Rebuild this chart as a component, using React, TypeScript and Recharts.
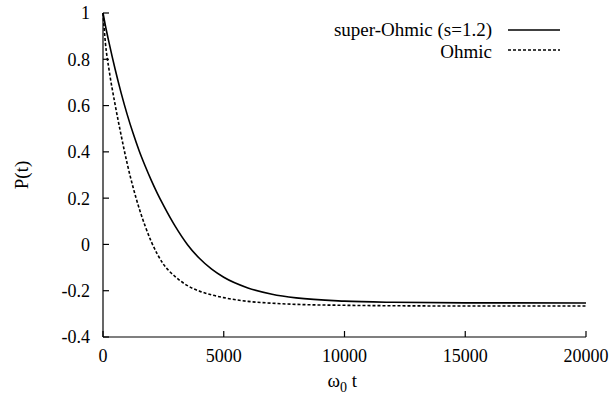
import { LineChart, Line, XAxis, YAxis } from 'recharts';

const times = [0, 100, 250, 500, 750, 1000, 1250, 1500, 1750, 2000, 2250, 2500, 3000, 3500, 4000, 4500, 5000, 6000, 7000, 8000, 10000, 12000, 15000, 20000];
const superOhmic = [1.0, 0.945, 0.872, 0.758, 0.655, 0.562, 0.479, 0.404, 0.338, 0.277, 0.221, 0.17, 0.077, -0.001, -0.061, -0.107, -0.142, -0.188, -0.215, -0.231, -0.245, -0.25, -0.2525, -0.253];
const ohmic = [1.0, 0.87, 0.755, 0.605, 0.472, 0.35, 0.245, 0.155, 0.078, 0.012, -0.042, -0.085, -0.14, -0.178, -0.202, -0.218, -0.23, -0.246, -0.254, -0.259, -0.263, -0.265, -0.266, -0.266];

const xTicks = [0, 5000, 10000, 15000, 20000];
const yTicks = [-0.4, -0.2, 0, 0.2, 0.4, 0.6, 0.8, 1];

// no serif font turned up in the sandbox, so this falls back to a sans
const FONT = '"Liberation Serif", "Times New Roman", "Liberation Sans", sans-serif';

const data = times.map((t, i) => ({ t, s: superOhmic[i], o: ohmic[i] }));

const tickStyle = { fill: '#000', fontSize: 18, style: { fontFamily: FONT } };
const axisLine = { stroke: '#000', strokeWidth: 1.2 };
const noLabel = () => <g />;
const textStyle = { fontFamily: FONT };

export default function App() {
  return (
    <div style={{ position: 'absolute', left: 0, top: 0, width: 614, height: 402, background: '#fff', fontFamily: FONT }}>
      <LineChart width={614} height={402} data={data} margin={{ top: 13, right: 28, bottom: 20, left: 0 }} style={textStyle}>
        <XAxis
          dataKey="t"
          type="number"
          domain={[0, 20000]}
          ticks={xTicks}
          axisLine={axisLine}
          tickLine={axisLine}
          tickSize={-6}
          tickMargin={18}
          tick={tickStyle}
          height={45}
          label={{
            content: ({ viewBox }: any) => (
              <text x={viewBox.x + viewBox.width / 2 - 17} y={viewBox.y + 50} style={textStyle} fontSize={19} fill="#000">
                ω<tspan fontSize={14} dy={5}>0</tspan>
                <tspan dy={-5}> t</tspan>
              </text>
            ),
          }}
        />
        <XAxis
          xAxisId="top"
          orientation="top"
          type="number"
          domain={[0, 20000]}
          ticks={xTicks}
          axisLine={axisLine}
          tickLine={axisLine}
          tickSize={-6}
          tick={noLabel}
          height={0}
        />
        <YAxis
          type="number"
          domain={[-0.4, 1]}
          ticks={yTicks}
          interval={0}
          axisLine={axisLine}
          tickLine={axisLine}
          tickSize={-6}
          tickMargin={19}
          tick={tickStyle}
          width={103}
          label={{
            content: ({ viewBox }: any) => (
              <text
                x={21}
                y={viewBox.y + viewBox.height / 2}
                transform={`rotate(-90, 21, ${viewBox.y + viewBox.height / 2})`}
                textAnchor="middle"
                dominantBaseline="central"
                style={textStyle}
                fontSize={19}
                fill="#000"
              >
                P(t)
              </text>
            ),
          }}
        />
        <YAxis
          yAxisId="right"
          orientation="right"
          type="number"
          domain={[-0.4, 1]}
          ticks={yTicks}
          interval={0}
          axisLine={axisLine}
          tickLine={axisLine}
          tickSize={-6}
          tick={noLabel}
          width={0}
        />
        <Line dataKey="s" type="monotone" stroke="#000" strokeWidth={1.6} dot={false} isAnimationActive={false} />
        <Line dataKey="o" type="monotone" stroke="#000" strokeWidth={1.6} strokeDasharray="3 2" dot={false} isAnimationActive={false} />
      </LineChart>
      <svg width={614} height={402} style={{ position: 'absolute', left: 0, top: 0, pointerEvents: 'none' }}>
        <text x={492} y={29} textAnchor="end" dominantBaseline="central" style={textStyle} fontSize={19} fill="#000">
          super-Ohmic (s=1.2)
        </text>
        <line x1={508} x2={560} y1={30} y2={30} stroke="#000" strokeWidth={1.6} />
        <text x={492} y={51} textAnchor="end" dominantBaseline="central" style={textStyle} fontSize={19} fill="#000">
          Ohmic
        </text>
        <line x1={508} x2={560} y1={50} y2={50} stroke="#000" strokeWidth={1.6} strokeDasharray="3 2" />
      </svg>
    </div>
  );
}
